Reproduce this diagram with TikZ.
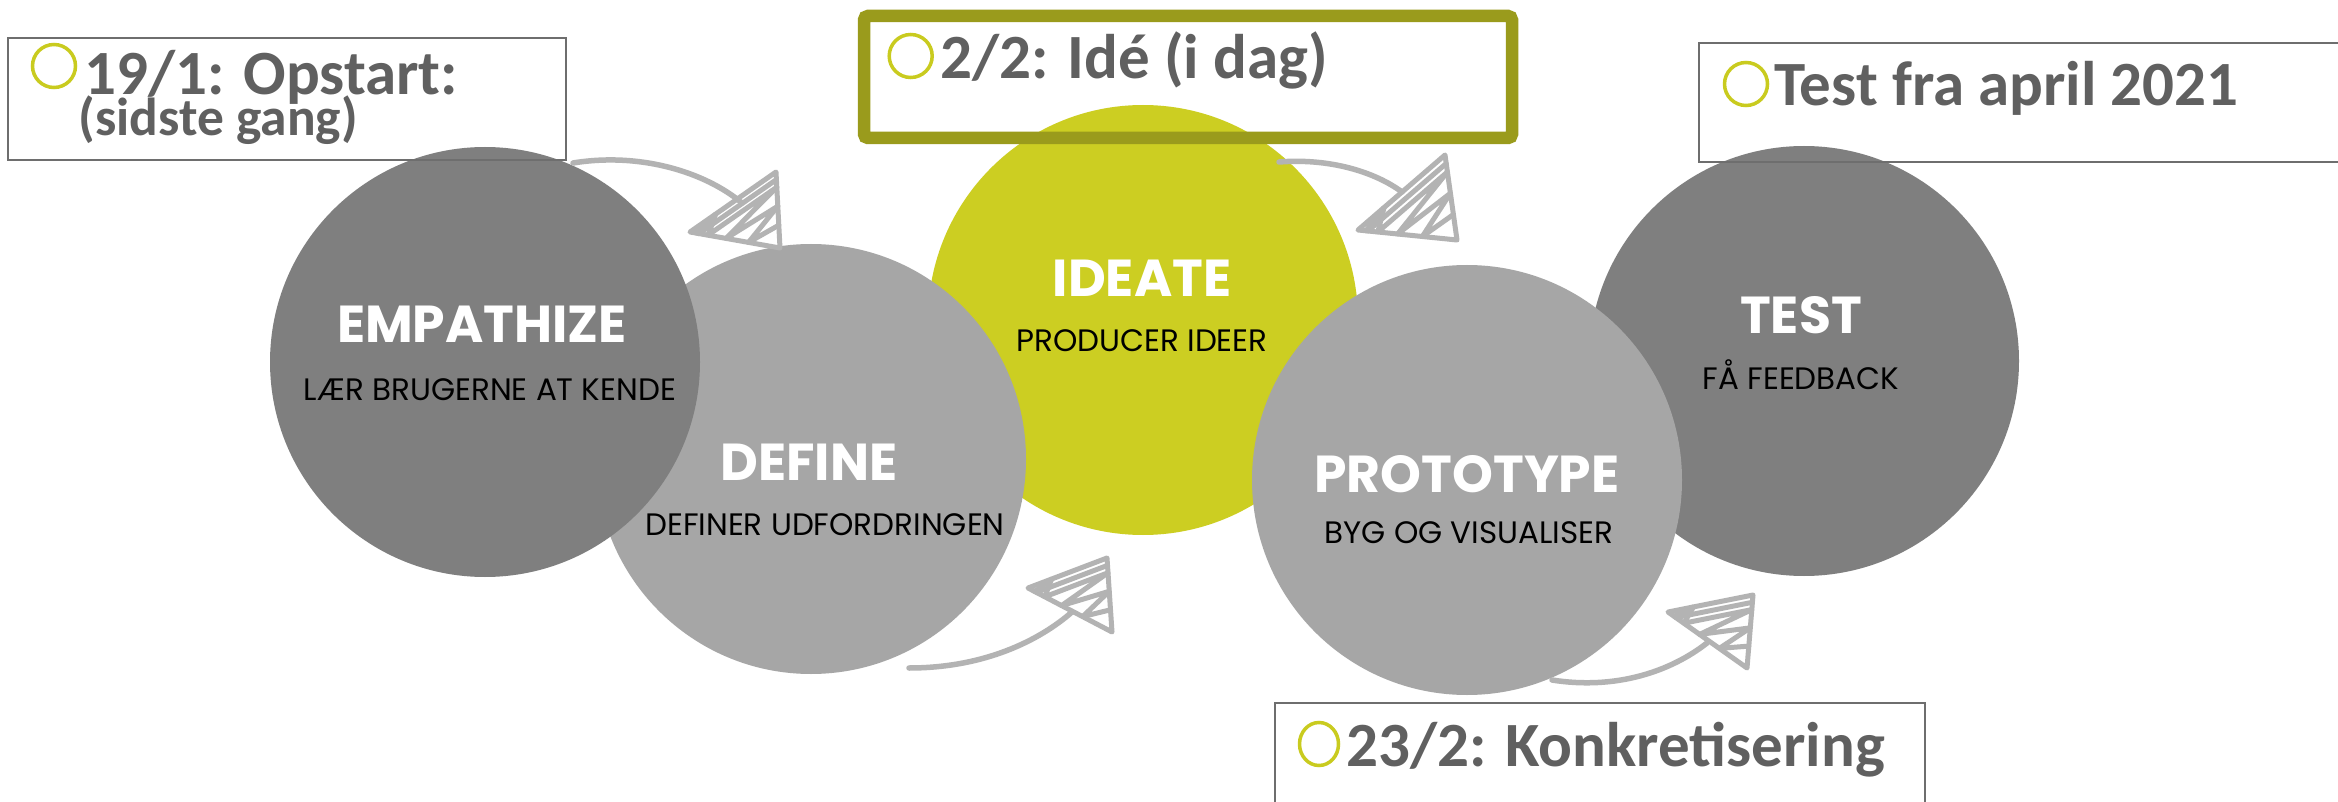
\documentclass[tikz,border=0pt]{standalone}
\usepackage{fontspec}
\usetikzlibrary{calc}
\newfontfamily\boxfont{Carlito}
\newfontfamily\circfont{Poppins}
\definecolor{darkc}{HTML}{7F7F7F}
\definecolor{lightc}{HTML}{A6A6A6}
\definecolor{ideac}{HTML}{CCCE22}
\definecolor{olivec}{HTML}{9A9B1C}
\definecolor{bulletc}{HTML}{C9CB1F}
\definecolor{boxtext}{HTML}{606060}
\definecolor{boxline}{HTML}{6E6E6E}
\definecolor{arrowc}{HTML}{B3B3B3}
\newcommand{\sketcharrow}[8]{%
  \coordinate (#1-s) at #2;
  \coordinate (#1-e) at #5;
  \coordinate (#1-A) at #6;
  \coordinate (#1-T) at #7;
  \coordinate (#1-B) at #8;
  \draw[arrowline, line width=5.5pt] (#1-s) .. controls #3 and #4 .. (#1-e);
  \draw[arrowline] (#1-A) -- (#1-T) -- (#1-B) -- cycle;
  \draw[arrowline] ($(#1-A)!0.08!(#1-B)$) -- ($(#1-A)!0.3!(#1-T)$) -- ($(#1-A)!0.2!(#1-B)$) -- ($(#1-T)!0.2!(#1-B)$) -- ($(#1-A)!0.4!(#1-B)$) -- ($(#1-T)!0.45!(#1-B)$) -- ($(#1-A)!0.65!(#1-B)$) -- ($(#1-T)!0.7!(#1-B)$);
  \draw[arrowline] ($(#1-A)!0.1!(#1-B)$) -- ($(#1-T)!0.1!(#1-B)$);
}
\begin{document}
\begin{tikzpicture}[x=1pt,y=-1pt,
  phase/.style={circle, minimum size=430pt, inner sep=0pt, draw=none},
  ttl/.style={anchor=base, text=white, font=\circfont\bfseries\fontsize{52}{56}\selectfont, inner sep=0pt},
  subt/.style={anchor=base, text=black, font=\circfont\fontsize{31}{36}\selectfont, inner sep=0pt},
  datebox/.style={draw=boxline, line width=2pt, inner sep=0pt},
  datetxt/.style={anchor=base west, text=boxtext, font=\boxfont\bfseries\fontsize{63}{70}\selectfont, inner sep=0pt},
  bullet/.style={draw=bulletc, line width=3.5pt},
  arrowline/.style={draw=arrowc, line width=5pt, line cap=round, line join=round}
]
\useasboundingbox (0,0) rectangle (2338,802);
\fill[white] (0,0) rectangle (2338,802);

% circles (stacking order matters)
\node[phase, fill=ideac] (ideate) at (1143,320) {};
\node[phase, fill=darkc] (test) at (1804,361) {};
\node[phase, fill=lightc] (define) at (811,459) {};
\node[phase, fill=darkc] (empathize) at (485,362) {};
\node[phase, fill=lightc] (prototype) at (1467,480) {};

% circle labels
\node[ttl] (t1) at (482,342) {EMPATHIZE};
\node[subt] (s1) at (490,400) {LÆR BRUGERNE AT KENDE};
\node[ttl] (t2) at (809,480) {DEFINE};
\node[subt] (s2) at (825,535) {DEFINER UDFORDRINGEN};
\node[ttl] (t3) at (1142,297) {IDEATE};
\node[subt] (s3) at (1142,352) {PRODUCER IDEER};
\node[ttl] (t4) at (1467,492) {PROTOTYPE};
\node[subt] (s4) at (1469,543) {BYG OG VISUALISER};
\node[ttl] (t5) at (1801,334) {TEST};
\node[subt] (s5) at (1801,389) {FÅ FEEDBACK};

% sketchy arrows
\sketcharrow{a1}{(573,163)}{(640,152)}{(705,172)}{(742,203)}{(690,232)}{(776,172)}{(780,248)}
\sketcharrow{a2}{(909,668)}{(985,668)}{(1040,640)}{(1072,612)}{(1028,588)}{(1107,558)}{(1112,632)}
\sketcharrow{a3}{(1279,162)}{(1330,158)}{(1375,172)}{(1402,192)}{(1358,230)}{(1445,155)}{(1457,240)}
\sketcharrow{a4}{(1552,680)}{(1615,690)}{(1670,672)}{(1707,643)}{(1668,612)}{(1753,595)}{(1747,668)}

% date boxes
\node[datebox, minimum width=558pt, minimum height=122pt] (b1) at (287,99.5) {};
\draw[bullet] (54,66) circle [radius=21.5pt];
\node[datetxt] (b1t) at (84,95) {\vtop{\lineskiplimit=-200pt\baselineskip=41pt
  \hbox{19/1: Opstart:}
  \hbox{\kern-5.5pt\fontsize{53.5}{41}\selectfont (sidste gang)}}};

\node[draw=olivec, line width=12.5pt, rounded corners=4pt, minimum width=648pt, minimum height=122pt, inner sep=0pt] (b2) at (1188,77) {};
\draw[bullet] (910.7,56) circle [radius=21.5pt];
\node[datetxt] (b2t) at (940,79) {2/2: Idé (i dag)};

\node[datebox, minimum width=660pt, minimum height=119pt] (b3) at (2029,102.5) {};
\draw[bullet] (1746,84) circle [radius=21.5pt];
\node[datetxt] (b3t) at (1774,106) {Test fra april 2021};

\node[datebox, minimum width=650pt, minimum height=130pt] (b4) at (1600,768) {};
\draw[bullet] (1319,744) ellipse [x radius=19.5pt, y radius=21.5pt];
\node[datetxt] (b4t) at (1346,766) {23/2: Konkretisering};
\end{tikzpicture}
\end{document}
